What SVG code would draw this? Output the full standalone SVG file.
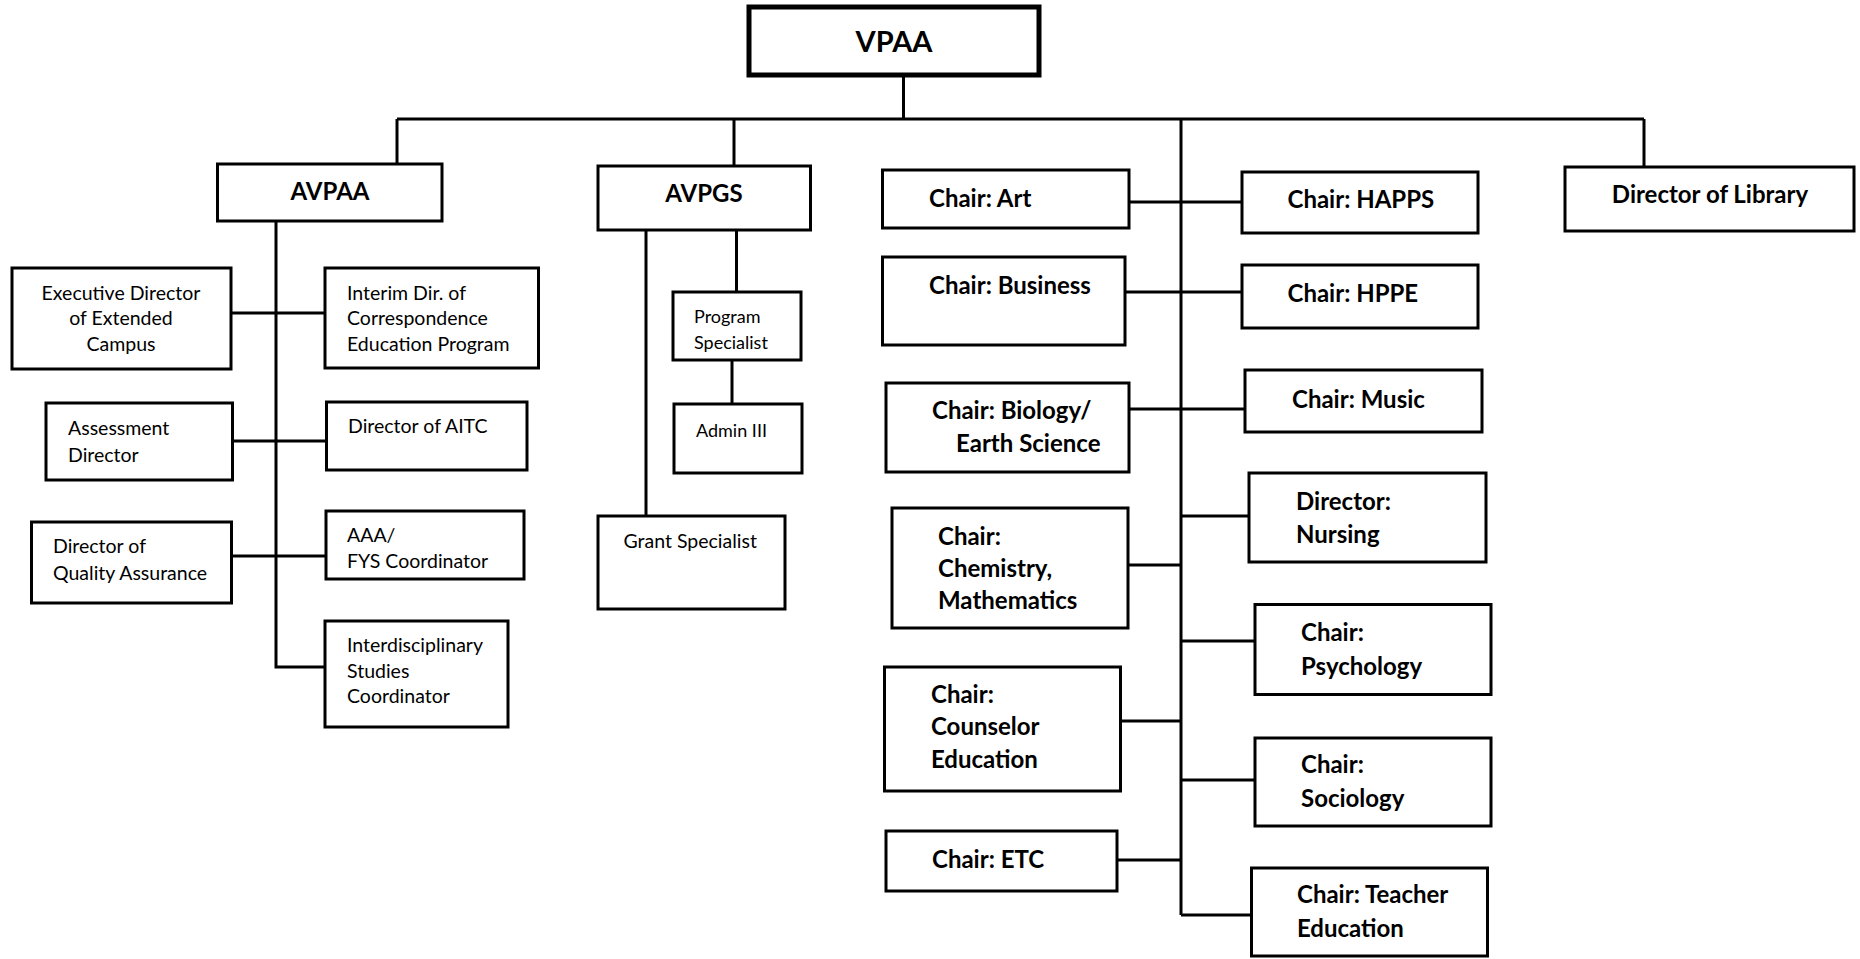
<svg xmlns="http://www.w3.org/2000/svg" width="1860" height="959" viewBox="0 0 1860 959">
<style>
.box{fill:#fff;stroke:#000;stroke-width:3}
.top{fill:#fff;stroke:#000;stroke-width:5}
.b{font-family:Lato,"Liberation Sans",sans-serif;font-weight:bold;font-size:24px;fill:#000}
.r{font-family:Lato,"Liberation Sans",sans-serif;font-size:19.5px;fill:#000}
.c{text-anchor:middle}
.con{fill:none;stroke:#000;stroke-width:3}
</style>
<rect width="1860" height="959" fill="#fff"/>
<g id="connectors" class="con">
<path d="M903.5 75V119"/>
<path d="M397 119H1644"/>
<path d="M397 119V164"/>
<path d="M734 119V166"/>
<path d="M1644 119V167"/>
<path d="M1181 119V915"/>
<path d="M276 221V667H325"/>
<path d="M231 313H325"/>
<path d="M232 441H326.5"/>
<path d="M231.5 556H326"/>
<path d="M646 230V516"/>
<path d="M736.5 230V292"/>
<path d="M732 360V404"/>
<path d="M1129 202H1242"/>
<path d="M1125 292H1242"/>
<path d="M1129 409H1245"/>
<path d="M1181 516H1249"/>
<path d="M1128 565H1181"/>
<path d="M1181 641H1255"/>
<path d="M1120.5 721H1181"/>
<path d="M1181 780H1255"/>
<path d="M1117 860H1181"/>
<path d="M1181 915H1251.5"/>
</g>
<g id="vpaa"><rect class="top" x="749" y="7" width="290" height="68"/><text class="b c" x="894" y="52" style="font-size:29px">VPAA</text></g>
<g id="avpaa"><rect class="box" x="217.5" y="164" width="224.5" height="57"/><text class="b c" x="330" y="200">AVPAA</text></g>
<g id="avpgs"><rect class="box" x="598" y="166" width="212.5" height="64"/><text class="b c" x="704" y="202">AVPGS</text></g>
<g id="library"><rect class="box" x="1565" y="167" width="289" height="64"/><text class="b c" x="1710" y="203">Director of Library</text></g>
<g id="exec-dir"><rect class="box" x="12" y="268" width="219" height="101"/><text class="r c" x="121" y="300">Executive Director</text><text class="r c" x="121" y="325">of Extended</text><text class="r c" x="121" y="351">Campus</text></g>
<g id="interim"><rect class="box" x="325" y="268" width="213.5" height="100"/><text class="r" x="347" y="300">Interim Dir. of</text><text class="r" x="347" y="325">Correspondence</text><text class="r" x="347" y="351">Education Program</text></g>
<g id="assessment"><rect class="box" x="46" y="403" width="186.5" height="77"/><text class="r" x="68" y="435">Assessment</text><text class="r" x="68" y="462">Director</text></g>
<g id="aitc"><rect class="box" x="326.5" y="402" width="200.5" height="68"/><text class="r" x="348" y="433">Director of AITC</text></g>
<g id="dqa"><rect class="box" x="31.5" y="522" width="200" height="81"/><text class="r" x="53" y="553">Director of</text><text class="r" x="53" y="580">Quality Assurance</text></g>
<g id="aaa-fys"><rect class="box" x="326" y="511" width="198" height="68"/><text class="r" x="347" y="542">AAA/</text><text class="r" x="347" y="568">FYS Coordinator</text></g>
<g id="interdisc"><rect class="box" x="325" y="621" width="183" height="106"/><text class="r" x="347" y="652">Interdisciplinary</text><text class="r" x="347" y="678">Studies</text><text class="r" x="347" y="703">Coordinator</text></g>
<g id="program-specialist"><rect class="box" x="673" y="292" width="128" height="68"/><text class="r" x="694" y="323" style="font-size:18px">Program</text><text class="r" x="694" y="349" style="font-size:18px">Specialist</text></g>
<g id="admin3"><rect class="box" x="674" y="404" width="128" height="69"/><text class="r" x="696" y="437" style="font-size:18px">Admin III</text></g>
<g id="grant"><rect class="box" x="598" y="516" width="187" height="93"/><text class="r" x="623.5" y="548">Grant Specialist</text></g>
<g id="art"><rect class="box" x="882.5" y="170" width="246.5" height="58"/><text class="b" x="929" y="207">Chair: Art</text></g>
<g id="business"><rect class="box" x="882.5" y="257" width="242.5" height="88"/><text class="b" x="929" y="294">Chair: Business</text></g>
<g id="biology"><rect class="box" x="886" y="383" width="243" height="89"/><text class="b" x="932" y="419">Chair: Biology/</text><text class="b" x="956" y="452">Earth Science</text></g>
<g id="chem-math"><rect class="box" x="892" y="508" width="236" height="120"/><text class="b" x="938" y="545">Chair:</text><text class="b" x="938" y="577">Chemistry,</text><text class="b" x="938" y="609">Mathematics</text></g>
<g id="counselor"><rect class="box" x="884.5" y="667" width="236" height="124"/><text class="b" x="931" y="703">Chair:</text><text class="b" x="931" y="735">Counselor</text><text class="b" x="931" y="768">Education</text></g>
<g id="etc"><rect class="box" x="886" y="831" width="231" height="60"/><text class="b" x="932" y="868">Chair: ETC</text></g>
<g id="happs"><rect class="box" x="1242" y="172" width="236" height="61"/><text class="b" x="1287.5" y="208">Chair: HAPPS</text></g>
<g id="hppe"><rect class="box" x="1242" y="265" width="236" height="63"/><text class="b" x="1287.5" y="302">Chair: HPPE</text></g>
<g id="music"><rect class="box" x="1245" y="370" width="237" height="62"/><text class="b" x="1292" y="408">Chair: Music</text></g>
<g id="nursing"><rect class="box" x="1249" y="473" width="237" height="89"/><text class="b" x="1296" y="510">Director:</text><text class="b" x="1296" y="543">Nursing</text></g>
<g id="psychology"><rect class="box" x="1255" y="604.5" width="236" height="90"/><text class="b" x="1301" y="641">Chair:</text><text class="b" x="1301" y="675">Psychology</text></g>
<g id="sociology"><rect class="box" x="1255" y="738" width="236" height="88"/><text class="b" x="1301" y="773">Chair:</text><text class="b" x="1301" y="807">Sociology</text></g>
<g id="teacher-ed"><rect class="box" x="1251.5" y="868" width="236" height="88"/><text class="b" x="1297" y="903">Chair: Teacher</text><text class="b" x="1297" y="937">Education</text></g>
</svg>
